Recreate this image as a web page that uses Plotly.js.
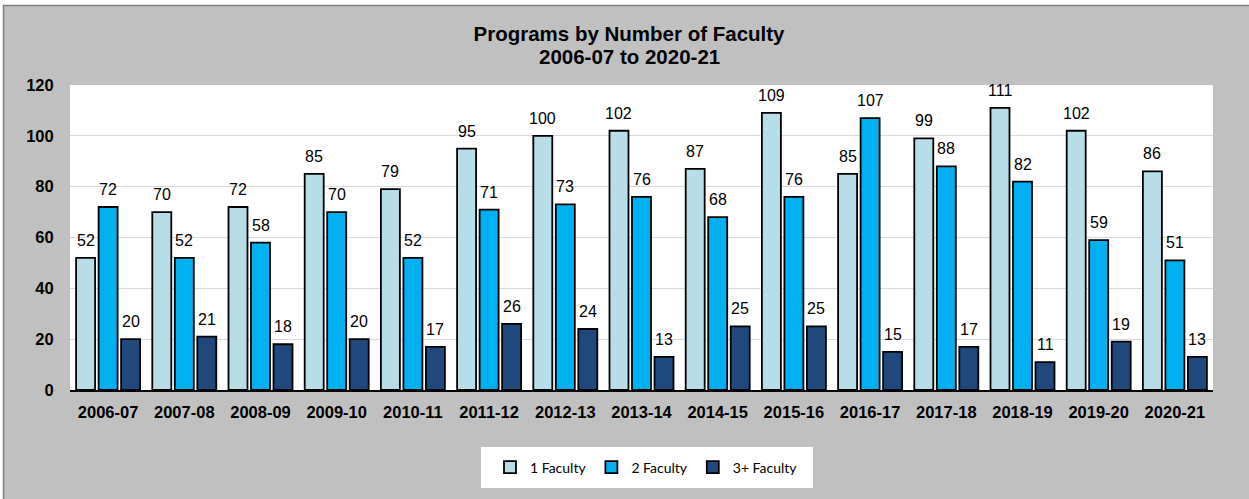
<!DOCTYPE html>
<html>
<head>
<meta charset="utf-8">
<script src="https://cdn.plot.ly/plotly-3.0.1.min.js"></script>
<style>
  html, body { margin: 0; padding: 0; background: #ffffff; }
  #chart { width: 1249px; height: 499px; }
</style>
</head>
<body>
<div id="chart"></div>
<script>
// ---- data ----
const years = ["2006-07","2007-08","2008-09","2009-10","2010-11","2011-12","2012-13","2013-14","2014-15","2015-16","2016-17","2017-18","2018-19","2019-20","2020-21"];
const oneFaculty   = [52, 70, 72, 85, 79, 95, 100, 102, 87, 109, 85, 99, 111, 102, 86];
const twoFaculty   = [72, 52, 58, 70, 52, 71, 73, 76, 68, 76, 107, 88, 82, 59, 51];
const threeFaculty = [20, 21, 18, 20, 17, 26, 24, 13, 25, 25, 15, 17, 11, 19, 13];
const seriesNames  = ["1 Faculty", "2 Faculty", "3+ Faculty"];
const yTicks       = [0, 20, 40, 60, 80, 100, 120];

// ---- style ----
const colors = ["#b7dde8", "#00b0f0", "#1f497d"];
const FONT = "Liberation Sans, Arial, sans-serif";
const W = 1249, H = 499;
const M = {l: 70, r: 36, t: 85, b: 109};
const PW = W - M.l - M.r, PH = H - M.t - M.b;
const px2x = p => (p - M.l) / PW;
const py2y = p => (H - M.b - p) / PH;

const seriesData = [oneFaculty, twoFaculty, threeFaculty];
const traces = seriesData.map((vals, i) => ({
  type: "bar",
  name: seriesNames[i],
  x: years,
  y: vals,
  marker: {color: colors[i], line: {color: "#000000", width: 1.8}},
  hoverinfo: "x+y+name"
}));

// value labels above bars
const slot = PW / years.length * (1 - 0.114) / 3;
const annotations = [];
seriesData.forEach((vals, i) => {
  vals.forEach((v, j) => {
    annotations.push({
      x: years[j], y: v, xref: "x", yref: "y",
      xshift: (i - 1) * slot, yshift: 7,
      yanchor: "bottom", xanchor: "center",
      text: String(v), showarrow: false,
      font: {family: FONT, size: 16, color: "#000000"}
    });
  });
});
annotations.push({
  xref: "paper", yref: "paper",
  x: px2x(629), y: py2y(56), xanchor: "center", yanchor: "middle",
  text: "<b>2006-07 to 2020-21</b>", showarrow: false,
  font: {family: FONT, size: 20.5, color: "#000000"}
});

const shapes = [
  // outer grey frame
  {type: "rect", xref: "paper", yref: "paper", layer: "below",
   x0: px2x(3.5), x1: px2x(1260), y0: py2y(510), y1: py2y(5.5),
   fillcolor: "#c0c0c0", line: {color: "#808080", width: 1.5}},
  // plot area white
  {type: "rect", xref: "paper", yref: "paper", layer: "below",
   x0: 0, x1: 1, y0: 0, y1: 1, fillcolor: "#ffffff", line: {width: 0}},
  // legend box
  {type: "rect", xref: "paper", yref: "paper", layer: "below",
   x0: px2x(481), x1: px2x(813), y0: py2y(488), y1: py2y(447),
   fillcolor: "#ffffff", line: {width: 0}}
];

const layout = {
  width: W, height: H,
  margin: M,
  paper_bgcolor: "#ffffff",
  plot_bgcolor: "#ffffff",
  barmode: "group",
  bargap: 0.114,
  bargroupgap: 0.156,
  title: {
    text: "<b>Programs by Number of Faculty</b>",
    font: {family: FONT, size: 20.5, color: "#000000"},
    xref: "container", yref: "container",
    x: 629 / W, xanchor: "center",
    y: 1 - 27 / H, yanchor: "top"
  },
  xaxis: {
    type: "category",
    showgrid: false,
    showline: true, linecolor: "#000000", linewidth: 2,
    ticks: "outside", ticklen: 6, tickcolor: "rgba(0,0,0,0)",
    tickfont: {family: FONT, size: 16.5, color: "#000000", weight: "bold"},
    fixedrange: true
  },
  yaxis: {
    range: [0, 120],
    tickvals: yTicks,
    ticktext: yTicks.map(String),
    showgrid: true, gridcolor: "#d9d9d9", gridwidth: 1,
    zeroline: false, showline: false,
    ticks: "outside", ticklen: 12, tickcolor: "rgba(0,0,0,0)",
    tickfont: {family: FONT, size: 16.5, color: "#000000", weight: "bold"},
    fixedrange: true
  },
  legend: {
    orientation: "h",
    x: px2x(490), xanchor: "left",
    y: py2y(467.5), yanchor: "middle",
    bgcolor: "rgba(0,0,0,0)",
    borderwidth: 0,
    itemwidth: 30,
    font: {family: "Lato, Carlito, Calibri, sans-serif", size: 14, color: "#000000"},
    itemclick: false, itemdoubleclick: false
  },
  showlegend: true,
  annotations: annotations,
  shapes: shapes
};

Plotly.newPlot("chart", traces, layout, {displayModeBar: false, staticPlot: true});
</script>
</body>
</html>
